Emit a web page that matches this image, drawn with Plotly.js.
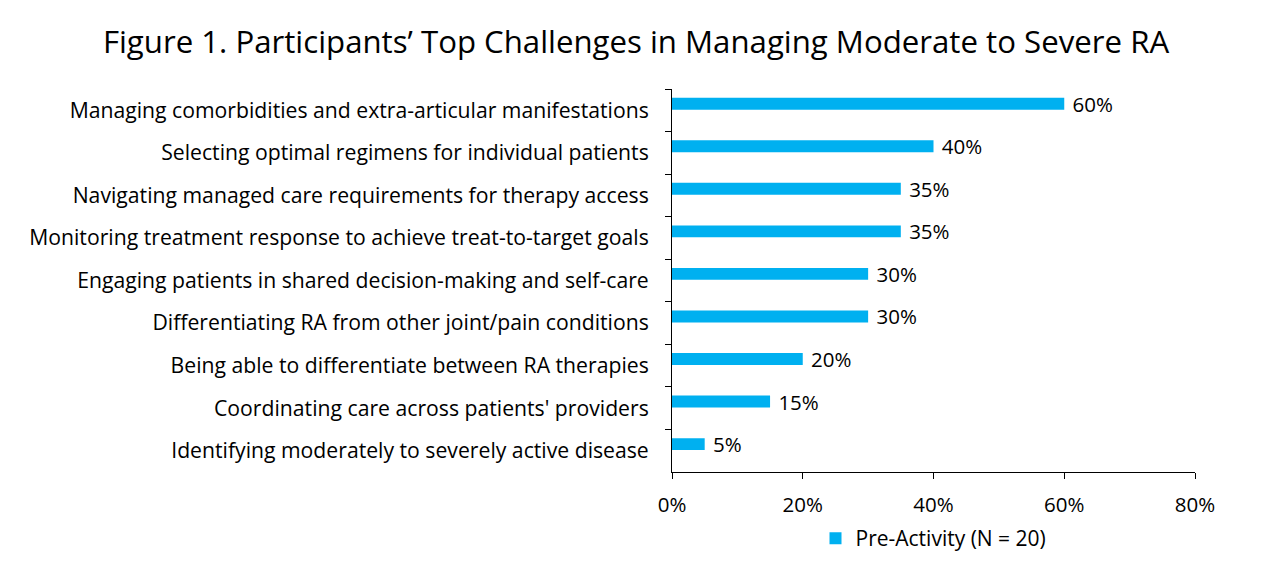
<!DOCTYPE html>
<html><head><meta charset="utf-8">
<script src="https://cdn.plot.ly/plotly-3.0.1.min.js"></script>
<style>body{margin:0;background:#fff}#chart{width:1272px;height:561px}</style>
</head><body><div id="chart"></div>
<script>
const categories = [
  "Managing comorbidities and extra-articular manifestations",
  "Selecting optimal regimens for individual patients",
  "Navigating managed care requirements for therapy access",
  "Monitoring treatment response to achieve treat-to-target goals",
  "Engaging patients in shared decision-making and self-care",
  "Differentiating RA from other joint/pain conditions",
  "Being able to differentiate between RA therapies",
  "Coordinating care across patients' providers",
  "Identifying moderately to severely active disease"
];
const values = [60, 40, 35, 35, 30, 30, 20, 15, 5];
const seriesName = "Pre-Activity (N = 20)";
const xTickVals = [0, 20, 40, 60, 80];
const xTickText = ["0%", "20%", "40%", "60%", "80%"];
const titleText = "Figure 1. Participants\u2019 Top Challenges in Managing Moderate to Severe RA";

const font = "'Open Sans', sans-serif";
const fs = 20.5;
const trace = {
  type: "bar", orientation: "h",
  x: values, y: categories, name: seriesName,
  marker: {color: "#00B0F0"},
  offset: -0.295, width: 0.28,
  text: values.map(v => "\u00a0" + v + "%"),
  textposition: "outside", cliponaxis: false, constraintext: "none",
  textfont: {family: font, size: fs, color: "#000"},
  hoverinfo: "none"
};
const layout = {
  width: 1272, height: 561,
  paper_bgcolor: "#fff", plot_bgcolor: "#fff",
  margin: {l: 672, r: 77, t: 89, b: 89, autoexpand: false},
  font: {family: font, size: fs, color: "#000"},
  title: {text: titleText, font: {family: font, size: 31.2, color: "#000"}, x: 0.5, xref: "container", xanchor: "center", y: 0.925, yref: "container", yanchor: "middle"},
  showlegend: true,
  legend: {orientation: "h", x: 0.5, xanchor: "center", xref: "paper", y: 0.04, yref: "container", yanchor: "middle", font: {family: font, size: 21}},
  xaxis: {range: [0, 80], tickvals: xTickVals, ticktext: xTickText, showgrid: false, zeroline: false,
          showline: true, linecolor: "#000", linewidth: 1, ticks: "outside", ticklen: 6, tickcolor: "#000",
          tickfont: {family: font, size: fs}, ticklabelstandoff: 8, fixedrange: true, automargin: false},
  yaxis: {range: [8.5, -0.5], showgrid: false, showline: true, linecolor: "#000", linewidth: 1,
          ticks: "outside", tickson: "boundaries", ticklen: 6, tickcolor: "#000",
          tickfont: {family: font, size: 21.2}, ticklabelstandoff: 18, fixedrange: true, automargin: false}
};
Plotly.newPlot("chart", [trace], layout, {displayModeBar: false, staticPlot: true});
</script></body></html>
